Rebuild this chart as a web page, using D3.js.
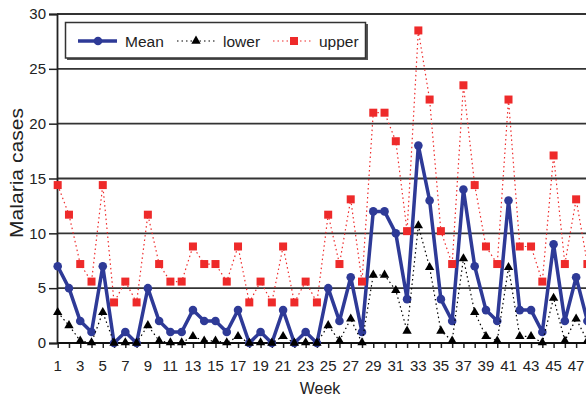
<!DOCTYPE html>
<html>
<head>
<meta charset="utf-8">
<script src="https://cdn.jsdelivr.net/npm/d3@7"></script>
<style>
  body { margin: 0; background: #fff; }
  svg { display: block; font-family: "Liberation Sans", Arial, sans-serif; }
</style>
</head>
<body>
<svg id="chart" width="586" height="396"></svg>
<script>
// weekly malaria cases, with lower / upper bounds
const weeks = [1, 2, 3, 4, 5, 6, 7, 8, 9, 10, 11, 12, 13, 14, 15, 16, 17, 18, 19, 20, 21, 22, 23, 24,
  25, 26, 27, 28, 29, 30, 31, 32, 33, 34, 35, 36, 37, 38, 39, 40, 41, 42, 43, 44, 45, 46, 47, 48];
const mean = [7, 5, 2, 1, 7, 0, 1, 0, 5, 2, 1, 1, 3, 2, 2, 1, 3, 0, 1, 0, 3, 0, 1, 0,
  5, 2, 6, 1, 12, 12, 10, 4, 18, 13, 4, 2, 14, 7, 3, 2, 13, 3, 3, 1, 9, 2, 6, 2];
const lower = [2.8, 1.6, 0.2, 0.03, 2.8, 0, 0.03, 0, 1.6, 0.2, 0.03, 0.03, 0.6, 0.2, 0.2, 0.03, 0.6, 0, 0.03, 0, 0.6, 0, 0.03, 0,
  1.6, 0.2, 2.2, 0.03, 6.2, 6.2, 4.8, 1.1, 10.7, 6.9, 1.1, 0.2, 7.7, 2.8, 0.6, 0.2, 6.9, 0.6, 0.6, 0.03, 4.1, 0.2, 2.2, 0.2];
const upper = [14.4, 11.7, 7.2, 5.6, 14.4, 3.7, 5.6, 3.7, 11.7, 7.2, 5.6, 5.6, 8.8, 7.2, 7.2, 5.6, 8.8, 3.7, 5.6, 3.7, 8.8, 3.7, 5.6, 3.7,
  11.7, 7.2, 13.1, 5.6, 21.0, 21.0, 18.4, 10.2, 28.5, 22.2, 10.2, 7.2, 23.5, 14.4, 8.8, 7.2, 22.2, 8.8, 8.8, 5.6, 17.1, 7.2, 13.1, 7.2];
const yTicks = [0, 5, 10, 15, 20, 25, 30];
const xLabels = [1, 3, 5, 7, 9, 11, 13, 15, 17, 19, 21, 23, 25, 27, 29, 31, 33, 35, 37, 39, 41, 43, 45, 47];

const blue = '#2e3a97';
const red = '#ee2a2a';

const svg = d3.select('#chart');

const x = d3.scaleLinear().domain([1, 48]).range([57.7, 587.4]);
const y = d3.scaleLinear().domain([0, 30]).range([343, 14]);

// gridlines
svg.append('g')
  .selectAll('line')
  .data(yTicks.slice(1))
  .enter().append('line')
  .attr('x1', 57).attr('x2', 586)
  .attr('y1', d => y(d)).attr('y2', d => y(d))
  .attr('stroke', '#333').attr('stroke-width', 1.8);

// y axis
const yAxis = svg.append('g')
  .attr('transform', 'translate(57,0)')
  .call(d3.axisLeft(y).tickValues(yTicks).tickSize(8).tickPadding(3));
yAxis.select('.domain').attr('stroke', '#222').attr('stroke-width', 1.8);
yAxis.selectAll('.tick line').attr('stroke', '#222').attr('stroke-width', 1.5);
yAxis.selectAll('.tick text')
  .attr('font-size', 15).attr('fill', '#222')
  .attr('font-family', '"Liberation Sans", Arial, sans-serif');

// x axis
const xAxis = svg.append('g')
  .attr('transform', 'translate(0,343)')
  .call(d3.axisBottom(x).tickValues(weeks).tickSize(5).tickFormat(''));
xAxis.select('.domain').remove();
xAxis.selectAll('.tick line').attr('stroke', '#222').attr('stroke-width', 1.5);
svg.append('line')
  .attr('x1', 57).attr('x2', 586).attr('y1', 343).attr('y2', 343)
  .attr('stroke', '#111').attr('stroke-width', 2.2);

svg.append('g')
  .selectAll('text')
  .data(xLabels)
  .enter().append('text')
  .attr('x', d => x(d))
  .attr('y', 371)
  .attr('text-anchor', 'middle')
  .attr('font-size', 15)
  .attr('fill', '#222')
  .text(d => d);

// axis titles
svg.append('text')
  .attr('x', 320).attr('y', 394)
  .attr('text-anchor', 'middle')
  .attr('font-size', 16).attr('fill', '#222')
  .text('Week');

svg.append('text')
  .attr('transform', 'translate(23,173) rotate(-90)')
  .attr('text-anchor', 'middle')
  .attr('font-size', 18).attr('fill', '#222')
  .attr('textLength', 130).attr('lengthAdjust', 'spacingAndGlyphs')
  .text('Malaria cases');

const pts = (vals) => weeks.map((w, i) => [x(w), y(vals[i])]);
const line = d3.line();
const tri = d3.symbol().type(d3.symbolTriangle).size(38);

// mean
svg.append('path')
  .attr('d', line(pts(mean)))
  .attr('fill', 'none').attr('stroke', blue).attr('stroke-width', 3.5)
  .attr('stroke-linejoin', 'round');
svg.append('g')
  .selectAll('circle')
  .data(pts(mean))
  .enter().append('circle')
  .attr('cx', d => d[0]).attr('cy', d => d[1]).attr('r', 4.3)
  .attr('fill', blue);

// lower
svg.append('path')
  .attr('d', line(pts(lower)))
  .attr('fill', 'none').attr('stroke', '#000').attr('stroke-width', 1.2)
  .attr('stroke-dasharray', '1.5,3');
svg.append('g')
  .selectAll('path')
  .data(pts(lower))
  .enter().append('path')
  .attr('d', tri)
  .attr('transform', d => `translate(${d[0]},${d[1]})`)
  .attr('fill', '#000');

// upper
svg.append('path')
  .attr('d', line(pts(upper)))
  .attr('fill', 'none').attr('stroke', red).attr('stroke-width', 1.2)
  .attr('stroke-dasharray', '1.5,3');
svg.append('g')
  .selectAll('rect')
  .data(pts(upper))
  .enter().append('rect')
  .attr('x', d => d[0] - 4).attr('y', d => d[1] - 4)
  .attr('width', 8).attr('height', 8)
  .attr('fill', red);

// legend
const lg = svg.append('g');
lg.append('rect')
  .attr('x', 67).attr('y', 24).attr('width', 301).attr('height', 36)
  .attr('fill', '#555');
lg.append('rect')
  .attr('x', 65.5).attr('y', 22.5).attr('width', 300).attr('height', 35.5)
  .attr('fill', '#fff').attr('stroke', '#333').attr('stroke-width', 1.5);

lg.append('line').attr('x1', 78).attr('x2', 117).attr('y1', 41).attr('y2', 41)
  .attr('stroke', blue).attr('stroke-width', 3.5);
lg.append('circle').attr('cx', 98).attr('cy', 41).attr('r', 4.3).attr('fill', blue);
lg.append('text').attr('x', 125).attr('y', 47).attr('font-size', 15.5).attr('fill', '#222').text('Mean');

lg.append('line').attr('x1', 177).attr('x2', 215).attr('y1', 41).attr('y2', 41)
  .attr('stroke', '#000').attr('stroke-width', 1.2).attr('stroke-dasharray', '1.5,3');
lg.append('path').attr('d', tri).attr('transform', 'translate(196,41)').attr('fill', '#000');
lg.append('text').attr('x', 223).attr('y', 47).attr('font-size', 15.5).attr('fill', '#222').text('lower');

lg.append('line').attr('x1', 273).attr('x2', 313).attr('y1', 41).attr('y2', 41)
  .attr('stroke', red).attr('stroke-width', 1.2).attr('stroke-dasharray', '1.5,3');
lg.append('rect').attr('x', 290).attr('y', 37).attr('width', 8).attr('height', 8).attr('fill', red);
lg.append('text').attr('x', 319).attr('y', 47).attr('font-size', 15.5).attr('fill', '#222').text('upper');
</script>
</body>
</html>
